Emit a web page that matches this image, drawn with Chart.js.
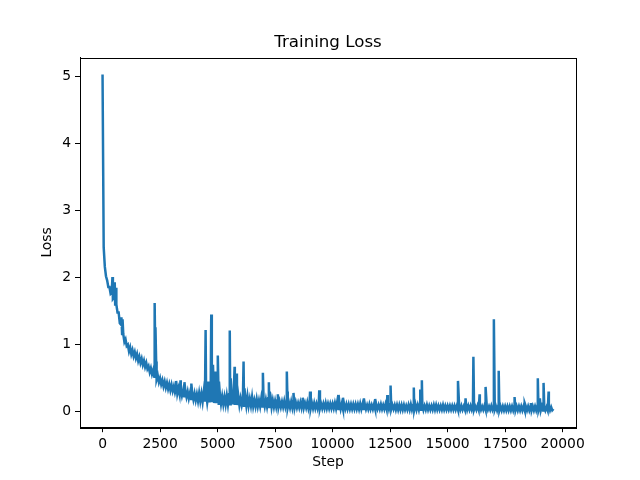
<!DOCTYPE html>
<html>
<head>
<meta charset="utf-8">
<script src="https://cdn.jsdelivr.net/npm/chart.js@4.4.1/dist/chart.umd.min.js"></script>
<style>
  html, body { margin: 0; padding: 0; background: #fff; }
  canvas { display: block; }
</style>
</head>
<body>
<canvas id="lossChart" width="640" height="480"></canvas>
<script>
  // ── Data ──────────────────────────────────────────────────────
  const LOG_EVERY = 50; // one logged value every 50 steps

  const lossLog = [
    5.03, 2.45, 2.16, 2.02, 1.96, 1.86, 1.86, 1.76, 1.78, 1.68, 1.70, 1.58, 1.60, 1.48, 1.48, 1.32, 1.30, 1.16, 1.16, 1.04,
    1.08, 0.98, 1.00, 0.90, 0.96, 0.86, 0.92, 0.83, 0.89, 0.80, 0.86, 0.76, 0.82, 0.73, 0.79, 0.70, 0.76, 0.67, 0.73, 0.64,
    0.68, 0.59, 0.65, 0.56, 0.62, 0.52, 0.58, 0.48, 0.54, 0.44, 0.50, 0.41, 0.47, 0.38, 0.45, 0.36, 0.43, 0.34, 0.41, 0.32,
    0.40, 0.31, 0.38, 0.29, 0.36, 0.27, 0.35, 0.26, 0.33, 0.24, 0.32, 0.23, 0.31, 0.22, 0.30, 0.20, 0.28, 0.19, 0.27, 0.18,
    0.27, 0.17, 0.26, 0.16, 0.28, 0.16, 0.27, 0.15, 0.30, 0.15, 0.28, 0.14, 0.27, 0.14, 0.30, 0.14, 0.27, 0.13, 0.30, 0.13,
    0.24, 0.12, 0.26, 0.12, 0.23, 0.11, 0.22, 0.11, 0.24, 0.11, 0.26, 0.11, 0.30, 0.11, 0.27, 0.10, 0.26, 0.10, 0.24, 0.10,
    0.20, 0.10, 0.19, 0.09, 0.22, 0.09, 0.23, 0.09, 0.19, 0.09, 0.22, 0.08, 0.17, 0.08, 0.19, 0.08, 0.17, 0.08, 0.20, 0.08,
    0.17, 0.08, 0.18, 0.08, 0.20, 0.07, 0.24, 0.07, 0.17, 0.07, 0.16, 0.07, 0.17, 0.07, 0.15, 0.07, 0.15, 0.07, 0.16, 0.07,
    0.15, 0.06, 0.14, 0.06, 0.15, 0.06, 0.17, 0.06, 0.14, 0.06, 0.13, 0.06, 0.14, 0.06, 0.17, 0.06, 0.13, 0.06, 0.14, 0.05,
    0.13, 0.05, 0.13, 0.05, 0.13, 0.05, 0.12, 0.05, 0.13, 0.05, 0.12, 0.05, 0.12, 0.05, 0.13, 0.05, 0.12, 0.05, 0.12, 0.05,
    0.12, 0.05, 0.13, 0.05, 0.15, 0.04, 0.13, 0.04, 0.12, 0.04, 0.11, 0.04, 0.11, 0.04, 0.11, 0.04, 0.11, 0.04, 0.11, 0.04,
    0.11, 0.04, 0.11, 0.04, 0.12, 0.04, 0.11, 0.04, 0.11, 0.04, 0.10, 0.04, 0.11, 0.04, 0.10, 0.04, 0.11, 0.04, 0.10, 0.04,
    0.10, 0.04, 0.11, 0.04, 0.10, 0.04, 0.11, 0.04, 0.12, 0.04, 0.11, 0.04, 0.10, 0.04, 0.10, 0.03, 0.10, 0.03, 0.10, 0.03,
    0.10, 0.03, 0.10, 0.03, 0.09, 0.03, 0.10, 0.03, 0.11, 0.03, 0.10, 0.03, 0.11, 0.03, 0.10, 0.03, 0.12, 0.03, 0.11, 0.03,
    0.09, 0.03, 0.10, 0.03, 0.09, 0.03, 0.09, 0.03, 0.10, 0.03, 0.10, 0.03, 0.09, 0.03, 0.09, 0.03, 0.10, 0.03, 0.09, 0.03,
    0.09, 0.03, 0.09, 0.03, 0.09, 0.03, 0.09, 0.03, 0.09, 0.03, 0.09, 0.03, 0.09, 0.03, 0.08, 0.03, 0.11, 0.03, 0.09, 0.03,
    0.09, 0.03, 0.09, 0.03, 0.08, 0.03, 0.09, 0.03, 0.09, 0.03, 0.08, 0.03, 0.09, 0.03, 0.09, 0.03, 0.08, 0.03, 0.09, 0.03,
    0.08, 0.03, 0.08, 0.02, 0.09, 0.02, 0.08, 0.02, 0.08, 0.02, 0.08, 0.02, 0.08, 0.02, 0.08, 0.02, 0.08, 0.02, 0.09, 0.02,
    0.08, 0.02, 0.08, 0.02, 0.08, 0.02, 0.08, 0.02, 0.08, 0.02, 0.08, 0.02, 0.08, 0.02, 0.08, 0.02, 0.08, 0.02, 0.09, 0.02,
    0.08, 0.02, 0.08, 0.02, 0.08, 0.02, 0.07, 0.02, 0.08, 0.02, 0.07, 0.02, 0.04
  ];

  // loss spikes that fall between logged points
  const spikeSteps = [
    430, 530, 590, 820, 870, 2265, 2300, 2330, 3200, 3390, 3560, 3860,
    4480, 4600, 4725, 4760, 4800, 4900, 5010, 5060, 5530, 5570, 5740, 5790,
    5840, 6130, 6170, 6970, 7230, 7270, 7620, 8010, 8030, 8300, 8700, 9020,
    9420, 10260, 10450, 11360, 11850, 12380, 12520, 13530, 13810, 13880, 15450, 15780,
    16120, 16390, 16650, 17010, 17220, 17910, 18350, 18620, 18920, 19010, 19170, 19390
  ];
  const spikeLoss = [
    2.01, 1.93, 1.85, 1.41, 1.38, 1.62, 1.26, 0.75, 0.46, 0.47, 0.44, 0.42,
    1.22, 0.45, 1.45, 0.60, 0.70, 0.60, 0.84, 0.45, 1.21, 0.50, 0.67, 0.45,
    0.57, 0.75, 0.35, 0.58, 0.44, 0.30, 0.26, 0.60, 0.30, 0.28, 0.21, 0.30,
    0.32, 0.25, 0.21, 0.20, 0.19, 0.25, 0.39, 0.36, 0.33, 0.47, 0.46, 0.20,
    0.82, 0.26, 0.37, 1.38, 0.61, 0.22, 0.13, 0.13, 0.50, 0.20, 0.43, 0.30
  ];

  const xTicks = [0, 2500, 5000, 7500, 10000, 12500, 15000, 17500, 20000];
  const yTicks = [0, 1, 2, 3, 4, 5];

  // ── Build series ──────────────────────────────────────────────
  const points = lossLog.map((y, i) => ({ x: i * LOG_EVERY, y }))
    .concat(spikeSteps.map((x, i) => ({ x, y: spikeLoss[i] })))
    .sort((a, b) => a.x - b.x);

  // matplotlib-style 5% margins
  const xs = points.map(p => p.x), ys = points.map(p => p.y);
  const xLo = Math.min(...xs), xHi = Math.max(...xs);
  const yLo = Math.min(...ys), yHi = Math.max(...ys);
  const xPad = (xHi - xLo) * 0.05, yPad = (yHi - yLo) * 0.05;

  const FONT = 'DejaVu Sans';

  // full box round the plot, like matplotlib spines
  const frame = {
    id: 'frame',
    afterDraw(chart) {
      const { ctx, chartArea: a } = chart;
      ctx.save();
      ctx.strokeStyle = '#000';
      ctx.lineWidth = 1;
      ctx.strokeRect(Math.round(a.left) + 0.5, Math.round(a.top) + 0.5,
                     Math.round(a.right - a.left), Math.round(a.bottom - a.top));
      ctx.restore();
    }
  };

  Chart.defaults.color = '#000';
  Chart.defaults.font.family = FONT;

  new Chart(document.getElementById('lossChart').getContext('2d'), {
    type: 'line',
    data: {
      datasets: [{
        label: 'Loss',
        data: points,
        borderColor: '#1f77b4',
        borderWidth: 2.5,
        pointRadius: 0,
        tension: 0,
        fill: false
      }]
    },
    options: {
      responsive: false, animation: false, devicePixelRatio: 1,
      // left pad 16 + y axis 64 = 80; right spacer axis 64 -> plot spans 80..576, title centred on it
      layout: { padding: { left: 16, right: 0, top: 0, bottom: 0 } },
      plugins: {
        legend: { display: false },
        tooltip: { enabled: false },
        title: {
          display: true, text: 'Training Loss', color: '#000',
          font: { family: FONT, size: 16.67, weight: 'normal', lineHeight: 1.2 },
          padding: { top: 33, bottom: 4.6 }
        }
      },
      scales: {
        x: {
          type: 'linear', min: xLo - xPad, max: xHi + xPad,
          afterBuildTicks: s => { s.ticks = xTicks.map(v => ({ value: v })); },
          afterFit: s => { s.height = 52.8; },
          ticks: { autoSkip: false, maxRotation: 0, padding: 4, color: '#000',
                   font: { family: FONT, size: 13.89 }, callback: v => String(v) },
          grid: { drawOnChartArea: false, drawTicks: true, tickLength: 5, color: '#000', lineWidth: 1 },
          border: { display: true, color: '#000', width: 1 },
          title: { display: true, text: 'Step', color: '#000',
                   font: { family: FONT, size: 13.89 }, padding: { top: 0, bottom: 9.7 } }
        },
        y: {
          type: 'linear', min: yLo - yPad, max: yHi + yPad,
          afterBuildTicks: s => { s.ticks = yTicks.map(v => ({ value: v })); },
          afterFit: s => { s.width = 64; },
          ticks: { autoSkip: false, padding: 4, color: '#000',
                   font: { family: FONT, size: 13.89 }, callback: v => String(v) },
          grid: { drawOnChartArea: false, drawTicks: true, tickLength: 5, color: '#000', lineWidth: 1 },
          border: { display: true, color: '#000', width: 1 },
          title: { display: true, text: 'Loss', color: '#000',
                   font: { family: FONT, size: 13.89 }, padding: { top: 23.5, bottom: 0 } }
        },
        spacer: {
          type: 'linear', position: 'right', display: true,
          afterFit: s => { s.width = 64; },
          ticks: { display: false },
          grid: { display: false, drawTicks: false },
          border: { display: false }
        }
      }
    },
    plugins: [frame]
  });
</script>
</body>
</html>
